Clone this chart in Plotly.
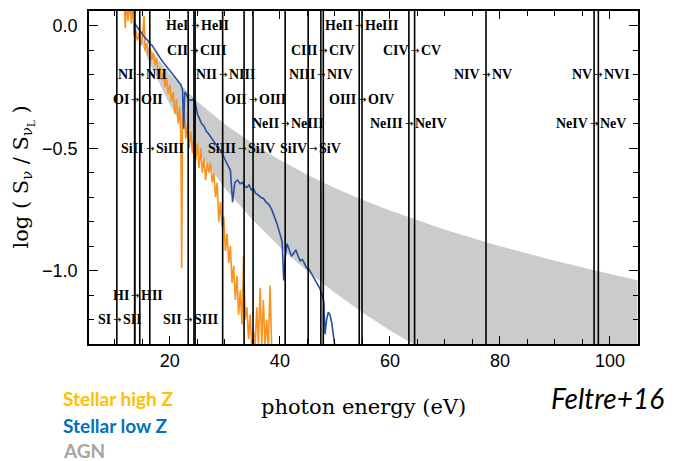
import plotly.graph_objects as go

# ---------------- data ----------------
# AGN band (grey)
agn_E = [13.6, 16, 20, 25, 30, 35, 40, 45, 50, 55, 60, 65, 70, 80, 90, 100, 105]
agn_upper = [0.0, -0.083, -0.196, -0.309, -0.402, -0.480, -0.548, -0.608, -0.662,
             -0.710, -0.754, -0.795, -0.833, -0.900, -0.960, -1.014, -1.039]
agn_lower = [0.0, -0.136, -0.323, -0.510, -0.663, -0.792, -0.904, -1.003, -1.091,
             -1.171, -1.244, -1.311, -1.373, -1.485, -1.584, -1.672, -1.713]

# Stellar low Z (blue)
low_E = [13.6, 13.9, 14.3, 14.8, 15.2, 15.6, 16.0, 16.4, 16.8, 17.2, 17.6, 18.0, 18.5,
         19.0, 19.5, 20.0, 20.5, 21.0, 21.5, 22.0, 22.3, 22.5, 22.7, 23.0, 23.4, 23.8,
         24.2, 24.6, 25.0, 25.4, 25.8, 26.2, 26.6, 27.0, 27.5, 28.0, 28.5, 29.0, 29.5,
         30.0, 30.5, 31.0, 31.4, 31.8, 32.3, 32.8, 33.2, 33.6, 34.0, 34.4, 34.8, 35.2,
         35.6, 36.0, 36.5, 37.0, 37.5, 38.0, 38.5, 39.0, 39.5, 40.0, 40.4, 40.7, 41.0,
         41.3, 41.7, 42.1, 42.5, 42.9, 43.3, 43.7, 44.1, 44.5, 44.9, 45.3, 45.7, 46.1,
         46.5, 46.9, 47.3, 47.7, 48.0, 48.2, 48.5, 48.8, 49.1, 49.4, 49.7, 50.0]
low_S = [0.01, 0.0, -0.01, -0.03, -0.04, -0.05, -0.06, -0.075, -0.08, -0.095, -0.11,
         -0.12, -0.14, -0.155, -0.17, -0.18, -0.195, -0.21, -0.225, -0.24, -0.26, -0.42,
         -0.27, -0.28, -0.30, -0.305, -0.30, -0.31, -0.36, -0.38, -0.40, -0.41, -0.43,
         -0.44, -0.455, -0.47, -0.485, -0.50, -0.52, -0.545, -0.565, -0.59, -0.72, -0.64,
         -0.63, -0.645, -0.64, -0.655, -0.66, -0.65, -0.67, -0.665, -0.685, -0.69, -0.70,
         -0.705, -0.72, -0.73, -0.75, -0.78, -0.81, -0.85, -0.88, -1.04, -0.94, -0.89,
         -0.92, -0.94, -0.93, -0.915, -0.94, -0.96, -0.955, -0.975, -0.99, -0.995, -1.01,
         -1.03, -1.04, -1.06, -1.075, -1.10, -1.13, -1.26, -1.20, -1.17, -1.18, -1.21,
         -1.26, -1.31]

# Stellar high Z (orange)
high_E = [11.7, 11.9, 12.1, 12.4, 12.7, 13.0, 13.3, 13.5, 13.8, 14.1, 14.4, 14.7, 15.0,
          15.3, 15.5, 15.8, 16.1, 16.4, 16.7, 17.0, 17.3, 17.6, 17.9, 18.2, 18.5, 18.8,
          19.1, 19.4, 19.7, 20.0, 20.3, 20.6, 20.9, 21.2, 21.5, 21.8, 22.0, 22.15, 22.3,
          22.6, 22.9, 23.2, 23.5, 23.8, 24.1, 24.4, 24.7, 25.0, 25.3, 25.6, 25.9, 26.2,
          26.5, 26.8, 27.1, 27.4, 27.7, 28.0, 28.3, 28.6, 28.9, 29.2, 29.5, 29.8, 30.1,
          30.4, 30.7, 31.0, 31.3, 31.6, 31.9, 32.2, 32.5, 32.8, 33.1, 33.4, 33.7, 34.0,
          34.3, 34.6, 34.9, 35.2, 35.5, 35.8, 36.1, 36.4, 36.7, 37.0, 37.3, 37.6, 37.9,
          38.2, 38.5]
high_S = [0.10, -0.01, 0.10, 0.02, 0.10, 0.01, 0.10, -0.04, -0.02, -0.06, -0.03, -0.08,
          -0.05, 0.04, -0.10, -0.07, -0.12, -0.09, -0.14, -0.11, -0.16, -0.13, -0.20,
          -0.17, -0.22, -0.19, -0.25, -0.21, -0.28, -0.24, -0.31, -0.27, -0.36, -0.30,
          -0.40, -0.33, -0.45, -0.99, -0.38, -0.34, -0.46, -0.40, -0.50, -0.43, -0.52,
          -0.45, -0.55, -0.48, -0.58, -0.50, -0.60, -0.54, -0.63, -0.56, -0.60, -0.56,
          -0.64, -0.60, -0.70, -0.64, -0.80, -0.72, -0.82, -0.78, -0.92, -0.85, -0.97,
          -0.90, -1.05, -0.98, -1.12, -1.02, -1.18, -1.08, -1.22, -0.94, -1.20, -1.15,
          -1.28, -1.18, -1.32, -1.25, -1.31, -1.15, -1.30, -1.07, -1.30, -1.12, -1.31,
          -1.20, -1.32, -1.06, -1.31]

# ionisation edges (eV) and their labels
edges_E = [10.36, 13.6, 13.62, 14.53, 16.35, 23.33, 24.38, 24.59, 29.6, 33.49, 35.12,
           40.96, 45.14, 47.45, 47.89, 54.42, 54.93, 63.45, 64.49, 77.47, 97.12, 97.89]
label_from = ["SI", "HI", "OI", "NI", "SiII", "SII", "CII", "HeI", "NII", "SiIII", "OII",
              "NeII", "SiIV", "NIII", "CIII", "HeII", "OIII", "NeIII", "CIV", "NIV",
              "NeIV", "NV"]
label_to = ["SII", "HII", "OII", "NII", "SiIII", "SIII", "CIII", "HeII", "NIII", "SiIV",
            "OIII", "NeIII", "SiV", "NIV", "CIV", "HeIII", "OIV", "NeIV", "CV", "NV",
            "NeV", "NVI"]
label_y = [-1.2, -1.1, -0.3, -0.2, -0.5, -1.2, -0.1, 0.0, -0.2, -0.5, -0.3,
           -0.4, -0.5, -0.2, -0.1, 0.0, -0.3, -0.4, -0.1, -0.2, -0.4, -0.2]
# small horizontal nudges (px) of a few label groups, as in the original
label_nudge = {"SiIV": 5, "SiIII": -2}

x_range = [5.3, 105.1]
y_range = [-1.30, 0.061]

# ---------------- figure ----------------
fig = go.Figure()

# AGN band
fig.add_trace(go.Scatter(
    x=agn_E + agn_E[::-1], y=agn_upper + agn_lower[::-1],
    fill="toself", fillcolor="#CACBCB", line=dict(width=0), mode="lines",
    hoverinfo="skip", showlegend=False))

fig.add_trace(go.Scatter(x=high_E, y=high_S, mode="lines",
                         line=dict(color="#F7931E", width=1.6), showlegend=False))
fig.add_trace(go.Scatter(x=low_E, y=low_S, mode="lines",
                         line=dict(color="#2B4FA0", width=1.6), showlegend=False))

# vertical edge lines
vx, vy = [], []
for e in edges_E:
    vx += [e, e, None]
    vy += [y_range[0] - 1, y_range[1] + 1, None]
fig.add_trace(go.Scatter(x=vx, y=vy, mode="lines",
                         line=dict(color="black", width=1.6), showlegend=False,
                         hoverinfo="skip"))

lab_font = dict(family="Liberation Serif", size=14, color="black", weight="bold")
annotations = []
for e, a, b, yv in zip(edges_E, label_from, label_to, label_y):
    n = label_nudge.get(a, 0)
    annotations.append(dict(x=e, y=yv, xref="x", yref="y", text=a, showarrow=False,
                            xanchor="right", yanchor="middle", xshift=-4 + n,
                            font=lab_font))
    annotations.append(dict(x=e, y=yv, xref="x", yref="y", text="→", showarrow=False,
                            xanchor="center", yanchor="middle", xshift=n,
                            font=dict(family="DejaVu Sans", size=10, color="black")))
    annotations.append(dict(x=e, y=yv, xref="x", yref="y", text=b, showarrow=False,
                            xanchor="left", yanchor="middle", xshift=4 + n,
                            font=lab_font))

# axis titles
annotations.append(dict(x=0.5, y=-0.188, xref="paper", yref="paper",
                        text="photon energy (eV)", showarrow=False,
                        xanchor="center", yanchor="middle",
                        font=dict(family="DejaVu Serif", size=21, color="black")))
annotations.append(dict(x=-0.122, y=0.5, xref="paper", yref="paper",
                        text="log ( S<sub>ν</sub> / S<sub>ν<sub>L</sub></sub> )",
                        textangle=-90, showarrow=False,
                        xanchor="center", yanchor="middle",
                        font=dict(family="DejaVu Serif", size=21, color="black")))

# legend-like texts
leg_texts = ["Stellar high Z", "Stellar low Z", "AGN"]
leg_colors = ["#FFC000", "#0070C0", "#A5A5A5"]
leg_ypx = [399, 426, 451]
for t, c, ypx in zip(leg_texts, leg_colors, leg_ypx):
    annotations.append(dict(x=(61 - 89) / 549, y=(344 - ypx) / 335, xref="paper",
                            yref="paper", text=t, showarrow=False, xanchor="left",
                            yanchor="middle",
                            font=dict(family="Lato", size=19, color=c, weight="bold")))
annotations.append(dict(x=(666 - 89) / 549, y=(344 - 398) / 335, xref="paper",
                        yref="paper", text="<i>Feltre+16</i>", showarrow=False,
                        xanchor="right", yanchor="middle",
                        font=dict(family="Lato", size=28, color="black")))

axis_common = dict(showline=True, linecolor="black", linewidth=1.5, mirror="allticks",
                   ticks="inside", tickcolor="black", tickwidth=1.3, showgrid=False,
                   zeroline=False,
                   tickfont=dict(family="Liberation Sans", size=18, color="black"))

fig.update_layout(
    width=675, height=461,
    margin=dict(l=89, r=37, t=9, b=117),
    paper_bgcolor="white", plot_bgcolor="white",
    showlegend=False,
    annotations=annotations,
    xaxis=dict(range=x_range, tick0=0, dtick=20, ticklen=8,
               minor=dict(dtick=5, tick0=0, ticklen=5, ticks="inside",
                          tickcolor="black", tickwidth=1.3),
               **axis_common),
    yaxis=dict(range=y_range, tick0=0, dtick=0.5, ticklen=9, tickformat=".1f",
               ticklabelstandoff=6,
               minor=dict(dtick=0.1, tick0=0, ticklen=5, ticks="inside",
                          tickcolor="black", tickwidth=1.3),
               **axis_common),
)

fig.write_html("out.html")
